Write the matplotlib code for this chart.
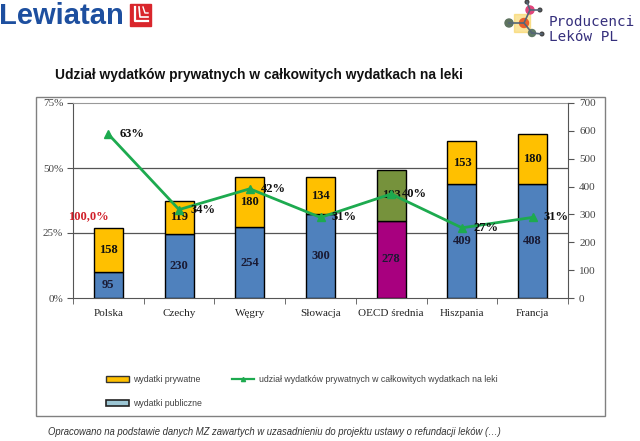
import matplotlib
matplotlib.use("Agg")
import matplotlib.pyplot as plt
import numpy as np
from matplotlib.patches import Rectangle, Circle, Patch
from matplotlib.lines import Line2D

plt.rcParams['font.family'] = ['Liberation Sans', 'DejaVu Sans']

# data
countries = ['Polska', 'Czechy', 'Węgry', 'Słowacja', 'OECD średnia', 'Hiszpania', 'Francja']
public = [95, 230, 254, 300, 278, 409, 408]
private = [158, 119, 180, 134, 183, 153, 180]
share = [0.63, 0.34, 0.42, 0.31, 0.40, 0.27, 0.31]
share_labels = ['63%', '34%', '42%', '31%', '40%', '27%', '31%']
pct_ticks = [0, 0.25, 0.50, 0.75]
pct_tick_labels = ['0%', '25%', '50%', '75%']
val_ticks = [0, 100, 200, 300, 400, 500, 600, 700]

BLUE = '#4F81BD'
YELLOW = '#FFC000'
GREEN = '#1DAA4F'
pub_colors = [BLUE] * 7
pub_colors[4] = '#A8007F'
priv_colors = [YELLOW] * 7
priv_colors[4] = '#76923C'

serif = ['Liberation Serif', 'DejaVu Serif']

fig = plt.figure(figsize=(6.4, 4.41), dpi=100)

# overlay in pixel coordinates for logos, title, frame and footnote
deco = fig.add_axes([0, 0, 1, 1], zorder=0)
deco.set_xlim(0, 640)
deco.set_ylim(441, 0)
deco.axis('off')

# Lewiatan logo
deco.text(-1, 16, 'Lewiatan', fontsize=21, fontweight='bold', color='#1D4F9F',
          va='center', ha='left')
deco.add_patch(Rectangle((130, 4), 21, 22, color='#D9262C'))
deco.plot([135, 135, 148], [7, 21, 21], color='white', lw=1.6)
deco.plot([139, 140, 148], [7, 17, 17], color='white', lw=1.2)
deco.plot([143, 145, 148], [7, 13, 13], color='white', lw=1.0)

# Producenci Leków PL logo
deco.add_patch(Rectangle((514, 14), 16, 18, color='#F7D25A', alpha=0.6))
for (x0, y0), (x1, y1) in [((509, 23), (524, 23)), ((524, 23), (530, 10)),
                           ((530, 10), (527, 2)), ((530, 10), (540, 10)),
                           ((524, 23), (532, 33)), ((532, 33), (542, 34))]:
    deco.plot([x0, x1], [y0, y1], color='#556677', lw=1.2)
for (cx, cy), r, c in [((509, 23), 4, '#5E735F'), ((524, 23), 4.5, '#E8602C'),
                       ((530, 10), 4, '#E0457B'), ((532, 33), 3.5, '#5F7A66'),
                       ((527, 2), 1.8, '#444444'), ((540, 10), 1.8, '#444444'),
                       ((542, 34), 1.8, '#444444')]:
    deco.add_patch(Circle((cx, cy), r, color=c))
deco.text(549, 22, 'Producenci', fontsize=10.3, family='DejaVu Sans Mono',
          color='#352F7C', va='center')
deco.text(549, 37, 'Leków PL', fontsize=10.3, family='DejaVu Sans Mono',
          color='#352F7C', va='center')

# title, frame, footnote
deco.text(55, 75, 'Udział wydatków prywatnych w całkowitych wydatkach na leki',
          fontsize=9.9, fontweight='bold', va='center', color='#111111')
deco.add_patch(Rectangle((36, 97), 569, 319, fill=False, edgecolor='#808080', lw=1))
deco.text(48, 432, 'Opracowano na podstawie danych MZ zawartych w uzasadnieniu do '
          'projektu ustawy o refundacji leków (…)', fontsize=6.85, style='italic',
          color='#333333', va='center')

# main chart: percent axis with grid
rect = [73 / 640, 1 - 298 / 441, 495 / 640, 195 / 441]
ax = fig.add_axes(rect, zorder=1)
x = np.arange(len(countries))
ax.set_xlim(-0.5, len(countries) - 0.5)
ax.set_ylim(0, 0.75)
ax.set_yticks(pct_ticks)
ax.set_yticklabels(pct_tick_labels, family=serif, fontsize=8, color='#444444')
for g in pct_ticks[1:3]:
    ax.axhline(g, color='#555555', lw=0.9, zorder=0)
ax.set_xticks(x)
ax.set_xticklabels(countries, family=serif, fontsize=8, color='#222222')
ax.tick_params(axis='x', length=0, pad=8)
ax.set_xticks(np.arange(-0.5, len(countries)), minor=True)
ax.tick_params(axis='x', which='minor', length=4, color='#555555')
ax.tick_params(axis='y', length=4, color='#555555', pad=3)
for s in ['left', 'bottom']:
    ax.spines[s].set_color('#555555')
ax.spines['top'].set_color('#999999')
ax.spines['right'].set_visible(False)

# bars on value axis (right)
axb = ax.twinx()
axb.set_ylim(0, 700)
axb.set_yticks(val_ticks)
axb.set_yticklabels([str(v) for v in val_ticks], family=serif, fontsize=8, color='#444444')
axb.tick_params(axis='y', length=4, color='#555555', pad=4)
axb.spines['right'].set_color('#555555')
for s in ['left', 'top', 'bottom']:
    axb.spines[s].set_visible(False)
w = 0.41
axb.bar(x, public, w, color=pub_colors, edgecolor='black', lw=1)
axb.bar(x, private, w, bottom=public, color=priv_colors, edgecolor='black', lw=1)
for i in range(len(countries)):
    axb.text(x[i], public[i] / 2, str(public[i]), ha='center', va='center',
             family=serif, fontweight='bold', fontsize=9, color='#1A1A33')
    axb.text(x[i], public[i] + private[i] / 2, str(private[i]), ha='center',
             va='center', family=serif, fontweight='bold', fontsize=9, color='#111111')

# share line on its own percent axis on top
axl = ax.twinx()
axl.set_ylim(0, 0.75)
axl.set_yticks([])
for s in axl.spines.values():
    s.set_visible(False)
axl.plot(x, share, color=GREEN, lw=2, marker='^', markersize=6)
for i in range(len(countries)):
    axl.annotate(share_labels[i], (x[i], share[i]), xytext=(8, 0),
                 textcoords='offset points', va='center', ha='left',
                 family=serif, fontweight='bold', fontsize=9, color='#111111')
axl.text(0.073, 0.42, '100,0%', transform=axl.transAxes, ha='right', va='center',
         family=serif, fontweight='bold', fontsize=9, color='#D0202A')

# legend
handles = [Patch(facecolor=YELLOW, edgecolor='#333333', lw=1),
           Patch(facecolor='#9CC6D4', edgecolor='#222222', lw=1.2),
           Line2D([], [], color=GREEN, lw=1.6, marker='^', markersize=3)]
labels = ['wydatki prywatne', 'wydatki publiczne',
          'udział wydatków prywatnych w całkowitych wydatkach na leki']
leg = fig.legend(handles, labels, ncol=2, loc='upper left',
                 bbox_to_anchor=(98 / 640, 1 - 367 / 441), frameon=False,
                 fontsize=6.3, handlelength=2.6, handleheight=0.6,
                 labelspacing=1.75, columnspacing=3.4, handletextpad=0.5)
for t in leg.get_texts():
    t.set_color('#404040')

fig.savefig('out.png', dpi=100)
